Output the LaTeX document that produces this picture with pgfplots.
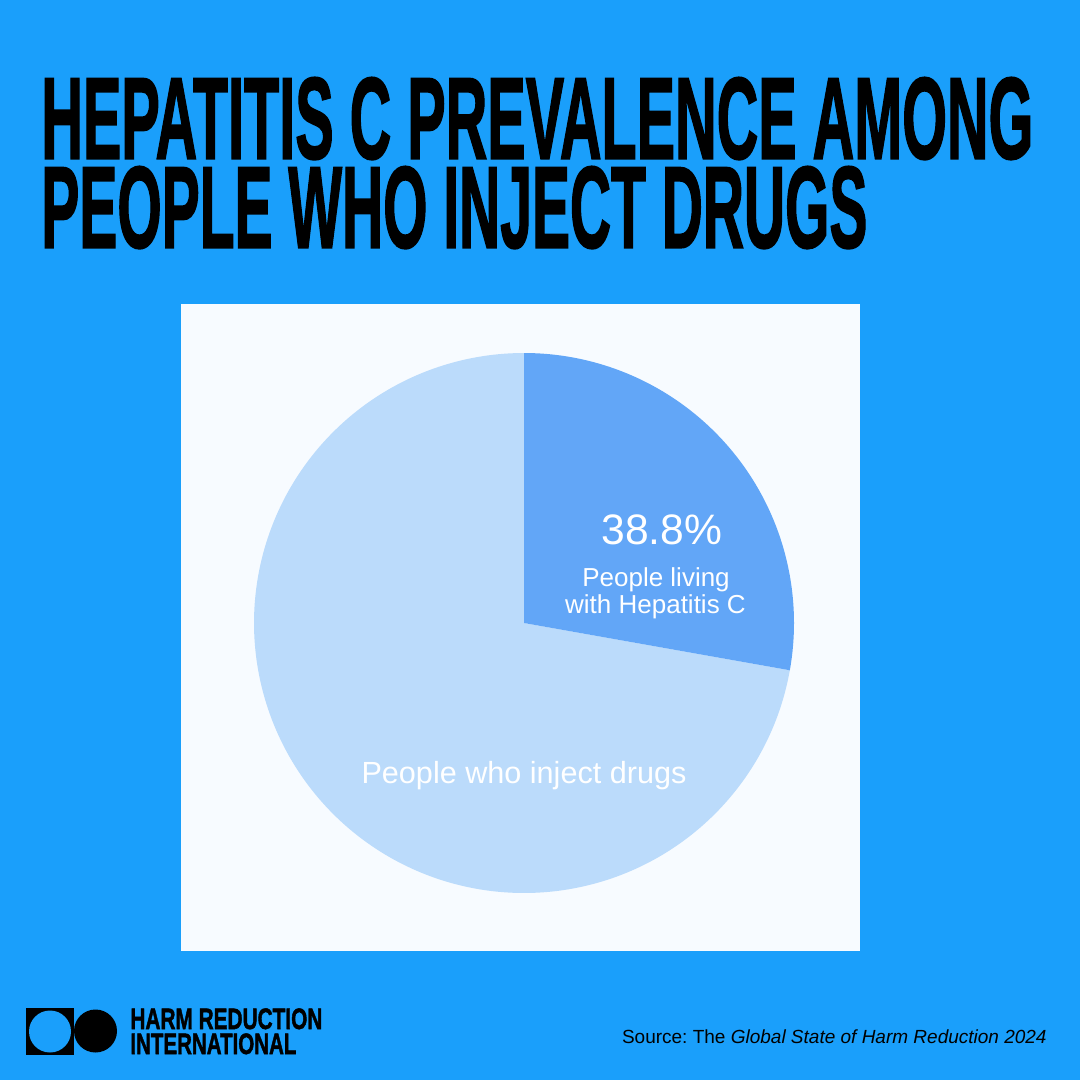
\documentclass[border=0pt]{standalone}
\usepackage{pgfplots}
\pgfplotsset{compat=1.18}
\usepackage{fontspec}
\setmainfont{Liberation Sans}
\newfontfamily\titlefont{Liberation Sans}[BoldFeatures={FakeBold=1.8}]
\definecolor{bgblue}{HTML}{1A9FFB}
\definecolor{panel}{HTML}{F7FBFF}
\definecolor{lightpie}{HTML}{BBDBFB}
\definecolor{darkpie}{HTML}{62A6F7}
\def\hcv{27.8}
\def\other{72.2}
\pgfmathsetmacro\endang{90-3.6*\hcv}
\pgfmathsetmacro\lightstart{\endang-3.6*\other}
\frenchspacing
\begin{document}
\begin{tikzpicture}[x=0.5pt,y=-0.5pt]
\fill[bgblue] (0,0) rectangle (1080,1080);
\fill[panel] (181,304) rectangle (860,951);
% title
\node[anchor=base west, inner sep=0] at (41,158.5) {\resizebox{496pt}{40.5pt}{\titlefont\bfseries HEPATITIS C PREVALENCE AMONG}};
\node[anchor=base west, inner sep=0] at (41,247.5) {\resizebox{413pt}{40.5pt}{\titlefont\bfseries PEOPLE WHO INJECT DRUGS}};
% logo
\fill[black] (26,1008) rectangle (74,1055);
\fill[bgblue] (50,1031.5) circle[radius=10.5pt];
\fill[black] (95.5,1031) circle[radius=10.75pt];
\node[anchor=base west, inner sep=0] at (130,1029) {\resizebox{96pt}{10.3pt}{\titlefont\bfseries HARM REDUCTION}};
\node[anchor=base west, inner sep=0] at (130,1054) {\resizebox{83pt}{10.3pt}{\titlefont\bfseries INTERNATIONAL}};
% source
\node[anchor=base east, inner sep=0, font=\fontsize{9.5pt}{11pt}\selectfont] at (1047,1043) {Source: The \textit{Global State of Harm Reduction 2024}};
\begin{axis}[at={(262pt,-311.5pt)}, anchor=center, x=135pt, y=135pt,
  xmin=-1, xmax=1, ymin=-1, ymax=1, hide axis, clip=false]
\addplot[fill=lightpie, draw=none, domain=\lightstart:\endang, samples=240, variable=\t]
  ({cos(\t)},{sin(\t)}) -- (axis cs:0,0) -- cycle;
\addplot[fill=darkpie, draw=none, domain=\endang:90, samples=100, variable=\t]
  ({cos(\t)},{sin(\t)}) -- (axis cs:0,0) -- cycle;
\node[anchor=base, text=white, inner sep=0, font=\fontsize{21.3pt}{24pt}\selectfont] at (axis cs:0.511,0.289) {38.8\%};
\node[anchor=base, text=white, inner sep=0, font=\fontsize{13pt}{15pt}\selectfont] at (axis cs:0.489,0.137) {People living};
\node[anchor=base, text=white, inner sep=0, font=\fontsize{13pt}{15pt}\selectfont] at (axis cs:0.487,0.037) {with Hepatitis C};
\node[anchor=base, text=white, inner sep=0, font=\fontsize{15.3pt}{18pt}\selectfont] at (axis cs:0,-0.593) {People who inject drugs};
\end{axis}
\end{tikzpicture}
\end{document}
